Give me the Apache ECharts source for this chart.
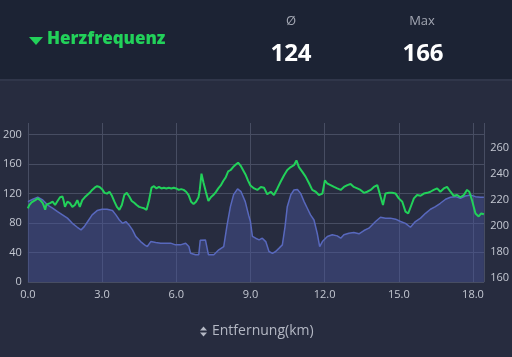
<!DOCTYPE html>
<html><head><meta charset="utf-8">
<script src="https://cdn.jsdelivr.net/npm/echarts@6/dist/echarts.min.js"></script>
<style>html,body{margin:0;padding:0;background:#272c3f;}#c{width:512px;height:357px;}</style>
</head><body><div id="c"></div>
<script>
// Heart rate (bpm) vs distance (km)
const hrKm = [0.0,0.05,0.1,0.15,0.2,0.3,0.4,0.5,0.6,0.65,0.7,0.75,0.8,0.9,1.0,1.1,1.2,1.3,1.4,1.45,1.5,1.6,1.7,1.8,1.9,2.0,2.1,2.2,2.3,2.4,2.5,2.6,2.7,2.8,2.9,3.0,3.1,3.2,3.3,3.4,3.5,3.6,3.7,3.8,3.9,4.0,4.1,4.2,4.3,4.4,4.5,4.6,4.7,4.8,4.85,4.9,5.0,5.1,5.2,5.3,5.4,5.5,5.6,5.7,5.8,5.9,6.0,6.1,6.2,6.3,6.4,6.5,6.6,6.7,6.8,6.9,6.95,7.02,7.1,7.2,7.3,7.4,7.5,7.6,7.7,7.8,7.9,8.0,8.1,8.2,8.3,8.4,8.5,8.6,8.7,8.8,8.9,9.0,9.15,9.28,9.42,9.55,9.68,9.82,9.95,10.09,10.22,10.36,10.49,10.63,10.76,10.86,10.96,11.1,11.23,11.37,11.5,11.64,11.77,11.91,12.01,12.1,12.24,12.38,12.51,12.65,12.78,12.92,13.05,13.18,13.32,13.45,13.59,13.72,13.86,13.99,14.13,14.26,14.36,14.46,14.6,14.73,14.87,15.0,15.14,15.27,15.38,15.51,15.61,15.74,15.88,16.01,16.15,16.28,16.41,16.55,16.68,16.82,16.95,17.09,17.22,17.36,17.49,17.63,17.76,17.85,17.96,18.1,18.23,18.33,18.44];
const hrVal = [100,104,102,108,107,111,113.5,111,107,103,98,105,104.5,107,109,104.5,110,115,116,110,102,109,107,102,104.5,111,102,111,115,118,121,125,128,130,129,126,121,120,122.5,117,109,102,98,104.5,118,121,116,110,107.5,104.5,102,101,100,98,95.5,111,128,130,127,129,127,128,127,128,127,128,127,125,126,125,122.5,118,109,106,109,115,125,147,135,122,110,115,118,122,127,131,137,142,150,152,156,159,162,158,152,146,138,131,127,125,129,128,119,122.5,118,127,136,145,152,156,158.5,165,156,149.5,143,134,125,122.5,118,120,138,134,131.5,129,127,125,129,131.5,133,129,127,125,121,122.5,125,129,131.5,116,104.5,120,121,121,120,113.5,109,95.5,93,104.5,113.5,118,117,120,121,122.5,125,127,122.5,127,129,122.5,117,118,115,118,125,122.5,111,93,89,93,92];
// Elevation (m) vs distance (km)
const elKm = [0.0,0.2,0.4,0.6,0.8,1.0,1.2,1.4,1.6,1.8,2.0,2.15,2.28,2.42,2.6,2.8,3.0,3.2,3.42,3.56,3.7,3.83,3.96,4.09,4.23,4.36,4.56,4.72,4.83,4.97,5.17,5.37,5.57,5.77,5.97,6.17,6.38,6.51,6.58,6.78,6.91,6.97,7.18,7.25,7.3,7.52,7.72,7.92,8.05,8.19,8.32,8.48,8.62,8.79,8.93,9.0,9.08,9.21,9.35,9.48,9.62,9.75,9.89,10.02,10.16,10.29,10.4,10.49,10.63,10.76,10.9,11.03,11.17,11.3,11.43,11.57,11.7,11.8,11.91,12.11,12.31,12.51,12.65,12.78,12.98,13.18,13.39,13.59,13.79,13.92,14.06,14.26,14.46,14.66,14.87,15.07,15.27,15.47,15.67,15.88,16.08,16.28,16.48,16.68,16.89,17.09,17.29,17.49,17.69,17.9,18.1,18.3,18.44];
const elVal = [218.7,220.5,222,220,216,213.6,211,208.5,206,202,199,197,199.5,203.4,208.5,211.8,212.8,212.8,211.8,208.5,204.6,202,203.4,200.8,197,192,188,185.5,184.2,188,187.3,186.8,186.8,186.8,185.5,185.5,186.8,184.2,179,177.9,177.9,189,189.3,188,178,177.9,181.7,184.2,200,214.8,224,228.5,226.3,218.7,208,203.4,192,190.6,189.3,190.6,188,180.4,179,180.4,183,185.5,199.5,214.8,223.8,227.6,228,225,218.7,213.6,208.5,204.6,194.4,184.2,188,191.9,193.2,192.4,190.6,193.2,194.4,195,194,196.5,198.3,200.8,203.4,206.7,206,206,205.2,203.4,202,199,203.4,206,209.7,212.8,214.8,217.4,220.5,222,222.5,221.2,223,223.8,222.5,222,222];
const titleText = 'Herzfrequenz';
const avgLabel = 'Ø', avgValue = '124';
const maxLabel = 'Max', maxValue = '166';
const xName = 'Entfernung(km)';
const hrMaxValue = 166;

const hrData = hrKm.map((k,i)=>[k,hrVal[i]]);
const elData = elKm.map((k,i)=>[k,elVal[i]]);

const FONT = '"Open Sans", "Noto Sans", sans-serif';
const gridCol = '#474d62';
const chart = echarts.init(document.getElementById('c'), null, {renderer:'canvas'});
chart.setOption({
  backgroundColor: '#272c3f',
  animation: false,
  graphic: [
    {type:'rect', left:0, top:0, shape:{width:512, height:79}, style:{fill:'#1c2334'}, z:0},
    {type:'rect', left:0, top:79, shape:{width:512, height:2}, style:{fill:'#30364a'}, z:0},
    {type:'polygon', shape:{points:[[29,37],[43,37],[36,45]]}, style:{fill:'#22d15a'}},
    {type:'text', left:47, top:31, style:{text:titleText, fill:'#22d15a', font:'800 17px '+FONT}},
    {type:'text', x:291, y:21, style:{text:avgLabel, fill:'#a3a7b3', font:'13px '+FONT, align:'center', verticalAlign:'middle'}},
    {type:'text', x:422, y:21, style:{text:maxLabel, fill:'#a3a7b3', font:'13px '+FONT, align:'center', verticalAlign:'middle'}},
    {type:'text', x:291, y:54, style:{text:avgValue, fill:'#ffffff', font:'bold 24px '+FONT, align:'center', verticalAlign:'middle'}},
    {type:'text', x:423, y:54, style:{text:maxValue, fill:'#ffffff', font:'bold 24px '+FONT, align:'center', verticalAlign:'middle'}},
    {type:'polygon', shape:{points:[[200,330.5],[207,330.5],[203.5,326.5]]}, style:{fill:'#b4b8c4'}},
    {type:'polygon', shape:{points:[[200,332.5],[207,332.5],[203.5,336.5]]}, style:{fill:'#b4b8c4'}},
    {type:'text', x:212, y:331, style:{text:xName, fill:'#b4b8c4', font:'14px '+FONT, verticalAlign:'middle'}}
  ],
  grid: {left:27, right:27, top:123, height:159},
  xAxis: {
    type:'value', min:0, max:18.45, interval:3,
    axisLine:{show:false}, axisTick:{show:false},
    splitLine:{show:true, lineStyle:{color:gridCol, width:1}},
    axisLabel:{color:'#c4c8d2', fontSize:11, fontFamily:FONT, margin:7, showMaxLabel:false,
      formatter:v=>v.toFixed(1)}
  },
  yAxis: [
    {type:'value', min:0, max:Math.round(hrMaxValue*1.3*10)/10, interval:40, position:'left',
     axisLine:{show:false}, axisTick:{show:false},
     splitLine:{show:true, lineStyle:{color:[gridCol,gridCol,gridCol,gridCol,gridCol,gridCol,'rgba(0,0,0,0)'], width:1}},
     axisLabel:{color:'#c4c8d2', fontSize:11, fontFamily:FONT, margin:6, showMaxLabel:false}},
    {type:'value', min:157, max:279, interval:1, position:'right',
     axisLine:{show:false}, axisTick:{show:false}, splitLine:{show:false},
     axisLabel:{color:'#c4c8d2', fontSize:11, fontFamily:FONT, margin:6,
       formatter:v=> (v%20===0 ? String(v) : '')}}
  ],
  series: [
    {type:'line', yAxisIndex:1, data:elData, showSymbol:false, smooth:false,
     lineStyle:{color:'#5868bd', width:1.5},
     areaStyle:{color:'rgba(74,88,160,0.62)'}, z:2},
    {type:'line', yAxisIndex:0, data:hrData, showSymbol:false, smooth:false,
     lineStyle:{color:'#22d15a', width:2}, z:3}
  ]
});
</script></body></html>
